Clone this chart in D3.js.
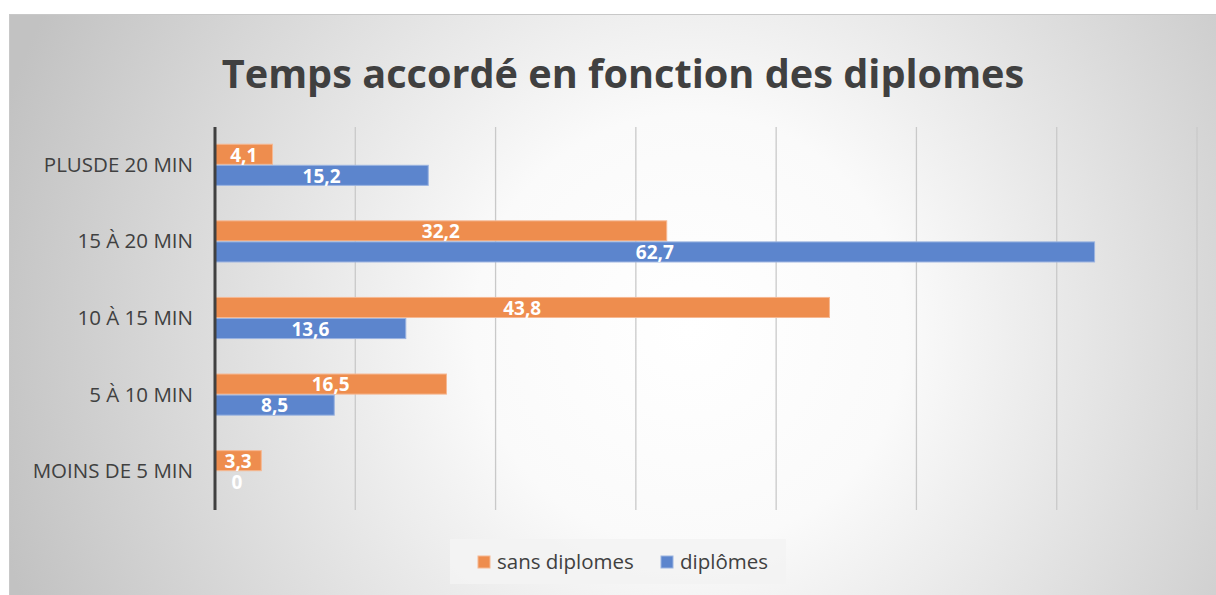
<!DOCTYPE html>
<html>
<head>
<meta charset="utf-8">
<script src="https://cdn.jsdelivr.net/npm/d3@7"></script>
<style>
  html, body { margin: 0; padding: 0; background: #fff; }
  svg { display: block; }
</style>
</head>
<body>
<div id="chart"></div>
<script>
const categories = ["PLUSDE 20 MIN", "15 À 20 MIN", "10 À 15 MIN", "5 À 10 MIN", "MOINS DE 5 MIN"];
const seriesNames = ["sans diplomes", "diplômes"];
const sansDiplomes = [4.1, 32.2, 43.8, 16.5, 3.3];
const diplomes = [15.2, 62.7, 13.6, 8.5, 0];
const xTicks = [0, 10, 20, 30, 40, 50, 60, 70];

const width = 1216, height = 595;
const colors = ["#ee8d4e", "#5c85cd"];
const strokes = ["#f6b892", "#9ab3e0"];
const plot = { left: 215, right: 1197, top: 127, bottom: 510 };
const FONT = "'Open Sans', 'Noto Sans', sans-serif";

let svg = d3.select("#chart")
    .append("svg")
    .attr("width", width)
    .attr("height", height);

let defs = svg.append("defs");
let grad = defs.append("radialGradient")
    .attr("id", "bg")
    .attr("gradientUnits", "userSpaceOnUse")
    .attr("cx", 690).attr("cy", 330).attr("r", 720);
grad.append("stop").attr("offset", "0%").attr("stop-color", "#ffffff");
grad.append("stop").attr("offset", "30%").attr("stop-color", "#fafafa");
grad.append("stop").attr("offset", "100%").attr("stop-color", "#c2c2c2");

svg.append("rect")
    .attr("x", 9.5).attr("y", 14.5)
    .attr("width", width - 9).attr("height", height - 14)
    .attr("fill", "url(#bg)")
    .attr("stroke", "#c8c8c8")
    .attr("stroke-width", 1);

svg.append("text")
    .attr("id", "title")
    .attr("x", 623)
    .attr("y", 88)
    .attr("text-anchor", "middle")
    .style("font-family", FONT)
    .style("font-weight", "bold")
    .style("font-size", "40px")
    .style("fill", "#404040")
    .text("Temps accordé en fonction des diplomes");

// fit title to the reference width
let title = svg.select("#title");
let tw = title.node().getComputedTextLength();
title.style("font-size", `${40 * 803 / tw}px`);

let x = d3.scaleLinear()
    .domain([0, 70])
    .range([plot.left, plot.right]);

let y = d3.scaleBand()
    .domain(categories)
    .range([plot.top, plot.bottom])
    .paddingInner(0.45)
    .paddingOuter(0.225);

let y1 = d3.scaleBand()
    .domain(seriesNames)
    .range([0, y.bandwidth()]);

// gridlines
svg.append("g")
    .selectAll("line")
    .data(xTicks.slice(1))
    .join("line")
    .attr("x1", d => x(d)).attr("x2", d => x(d))
    .attr("y1", plot.top).attr("y2", plot.bottom)
    .attr("stroke", "#c9c9c9")
    .attr("stroke-width", 1.3);

// y axis labels
let yAxis = svg.append("g")
    .attr("transform", `translate(${plot.left}, 0)`)
    .call(d3.axisLeft(y).tickSize(0).tickPadding(22));
yAxis.select(".domain").remove();
yAxis.selectAll("text")
    .style("font-family", FONT)
    .style("font-size", "20.5px")
    .style("fill", "#404040");

let rows = categories.map((c, i) => ({
    cat: c,
    values: [sansDiplomes[i], diplomes[i]]
}));

let groups = svg.append("g")
    .selectAll("g")
    .data(rows)
    .join("g")
    .attr("transform", d => `translate(0, ${y(d.cat)})`);

groups.selectAll("rect")
    .data(d => d.values.map((v, k) => ({ k, v })))
    .join("rect")
    .attr("x", x(0))
    .attr("y", d => y1(seriesNames[d.k]))
    .attr("width", d => x(d.v) - x(0))
    .attr("height", y1.bandwidth() - 1)
    .attr("fill", d => colors[d.k])
    .attr("stroke", d => d.v > 0 ? strokes[d.k] : "none")
    .attr("stroke-width", 1);

groups.selectAll("text")
    .data(d => d.values.map((v, k) => ({ k, v })))
    .join("text")
    .attr("x", d => Math.max((x(0) + x(d.v)) / 2, x(0) + 22))
    .attr("y", d => y1(seriesNames[d.k]) + y1.bandwidth() / 2)
    .attr("dy", "0.36em")
    .attr("text-anchor", "middle")
    .style("font-family", FONT)
    .style("font-weight", "bold")
    .style("font-size", "19px")
    .style("fill", "#ffffff")
    .text(d => String(d.v).replace(".", ","));

// axis line
svg.append("line")
    .attr("x1", x(0)).attr("x2", x(0))
    .attr("y1", plot.top).attr("y2", plot.bottom)
    .attr("stroke", "#404040")
    .attr("stroke-width", 3);

// legend
let legend = svg.append("g");
legend.append("rect")
    .attr("x", 450).attr("y", 539)
    .attr("width", 336).attr("height", 45)
    .attr("fill", "#f3f3f3")
    .attr("opacity", 0.9);

let legendX = [478, 661];
let items = legend.selectAll("g.item")
    .data(seriesNames)
    .join("g")
    .attr("class", "item")
    .attr("transform", (d, i) => `translate(${legendX[i]}, 556)`);

items.append("rect")
    .attr("width", 12).attr("height", 12)
    .attr("fill", (d, i) => colors[i])
    .attr("stroke", (d, i) => strokes[i]);

items.append("text")
    .attr("x", 19)
    .attr("y", 6)
    .attr("dy", "0.35em")
    .style("font-family", FONT)
    .style("font-size", "20.5px")
    .style("fill", "#404040")
    .text(d => d);
</script>
</body>
</html>
